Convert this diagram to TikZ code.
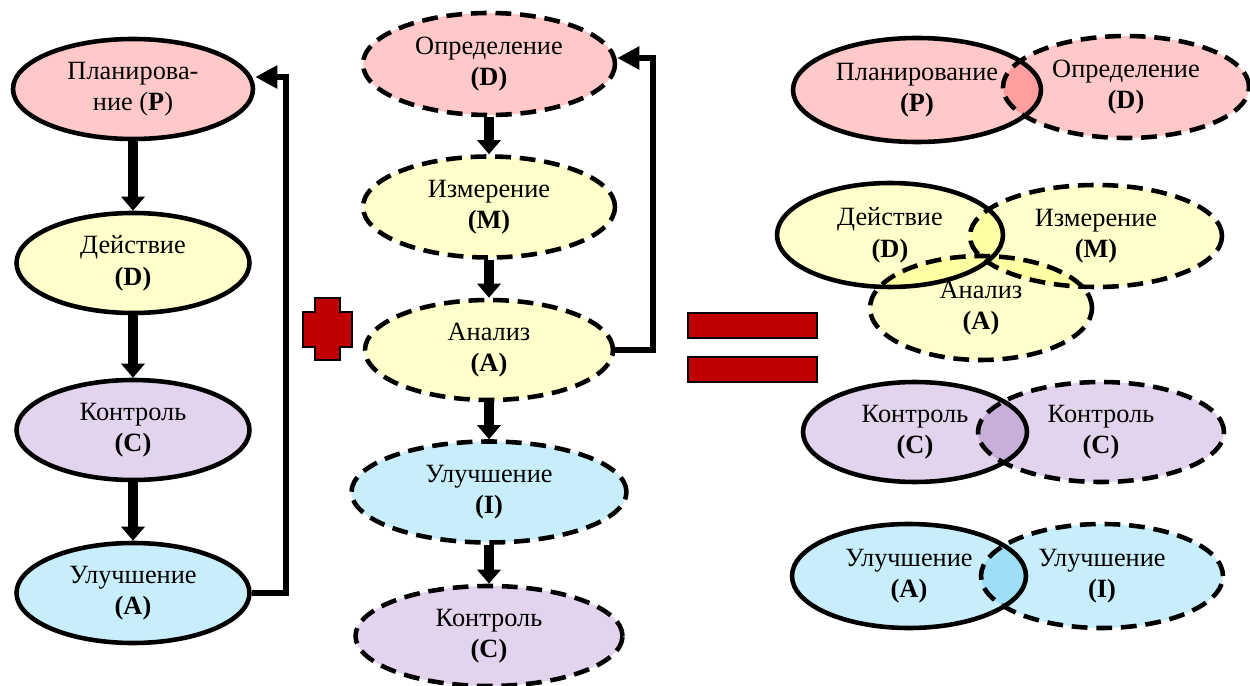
\documentclass[tikz,border=0pt]{standalone}
\usepackage{fontspec}
\setmainfont{Liberation Serif}
\usetikzlibrary{shapes.geometric, arrows.meta, positioning}
\definecolor{pinkF}{HTML}{FFC9C9}
\definecolor{yellowF}{HTML}{FFFFCC}
\definecolor{lilacF}{HTML}{E1D4EC}
\definecolor{blueF}{HTML}{C9EEFB}
\definecolor{signred}{HTML}{C00000}
\tikzset{
  ell/.style={ellipse, inner sep=0pt, line width=2.6pt, align=center,
    font=\fontsize{15}{18}\selectfont, minimum height=2cm},
  solidell/.style={ell, draw},
  dashell/.style={ell, draw, dash pattern=on 9pt off 5pt},
  flow/.style={line width=0.2cm, -{Triangle[width=0.46cm,length=0.28cm]}},
  loopline/.style={line width=0.13cm, -{Triangle[width=0.44cm,length=0.44cm]}},
  sign/.style={fill=signred, draw=black, line width=0.7pt}
}

\begin{document}
\begin{tikzpicture}
            \useasboundingbox (0,0) rectangle (25,-13.72);
            % PDCA
            \node[solidell, fill=pinkF, minimum width=4.8cm] (plan) at (2.66,-1.78) {Планирова-\\ние (\textbf{P})};
            \node[solidell, fill=yellowF, minimum width=4.66cm] (deyst) at (2.66,-5.26) {Действие\\\textbf{(D)}};
            \node[solidell, fill=lilacF, minimum width=4.66cm] (kontr) at (2.66,-8.6) {Контроль\\\textbf{(C)}};
            \node[solidell, fill=blueF, minimum width=4.66cm] (ulA) at (2.66,-11.86) {Улучшение\\\textbf{(A)}};
            \draw[flow] (plan.south) -- (deyst.north);
            \draw[flow] (deyst.south) -- (kontr.north);
            \draw[flow] (kontr.south) -- (ulA.north);
            \coordinate (loopA) at (5.72,-1.54);
            \draw[loopline] (ulA.east) -| (loopA) -- (loopA -| plan.east);

            % DMAIC
            \node[dashell, fill=pinkF, minimum width=5.04cm, minimum height=2.04cm] (opred) at (9.78,-1.28) {Определение\\\textbf{(D)}};
            \node[dashell, fill=yellowF, minimum width=5.04cm, minimum height=2.02cm] (izm) at (9.78,-4.14) {Измерение\\\textbf{(M)}};
            \node[dashell, fill=yellowF, minimum width=4.96cm] (anal) at (9.78,-7.0) {Анализ\\\textbf{(A)}};
            \node[dashell, fill=blueF, minimum width=5.5cm, minimum height=2.02cm] (ulI) at (9.78,-9.84) {Улучшение\\\textbf{(I)}};
            \node[dashell, fill=lilacF, minimum width=5.34cm] (kontrB) at (9.78,-12.72) {Контроль\\\textbf{(C)}};
            \draw[flow] (opred.south) -- (izm.north);
            \draw[flow] (izm.south) -- (anal.north);
            \draw[flow] (anal.south) -- (ulI.north);
            \draw[flow] (ulI.south) -- (kontrB.north);
            \coordinate (loopB) at (13.06,-1.16);
            \draw[loopline] (anal.east) -| (loopB) -- (loopB -| opred.east);

            % plus et egal
            \draw[sign] (6.3,-5.96) -- (6.8,-5.96) -- (6.8,-6.24) -- (7.04,-6.24) -- (7.04,-6.94) -- (6.8,-6.94)
              -- (6.8,-7.2) -- (6.3,-7.2) -- (6.3,-6.94) -- (6.06,-6.94) -- (6.06,-6.24) -- (6.3,-6.24) -- cycle;
            \draw[sign] (13.76,-6.26) rectangle (16.34,-6.76);
            \draw[sign] (13.76,-7.14) rectangle (16.34,-7.64);

            % resultat
            \node[solidell, fill=pinkF, minimum width=4.96cm, minimum height=2.08cm] (planR) at (18.34,-1.8) {Планирование\\\textbf{(P)}};
            \node[solidell, fill=yellowF, minimum width=4.52cm, minimum height=2.08cm] (deystR) at (17.8,-4.7) {Действие\\\textbf{(D)}};
            \node[solidell, fill=lilacF, minimum width=4.48cm] (kontrR) at (18.3,-8.64) {Контроль\\\textbf{(C)}};
            \node[solidell, fill=blueF, minimum width=4.68cm, minimum height=2.08cm] (ulR) at (18.18,-11.52) {Улучшение\\\textbf{(A)}};
            \begin{scope}[blend mode=multiply]
              \node[dashell, fill=pinkF, minimum width=4.92cm, minimum height=2.04cm] (opredR) at (22.52,-1.74) {Определение\\\textbf{(D)}};
              \node[dashell, fill=yellowF, minimum width=5.04cm, minimum height=2.04cm] (izmR) at (21.92,-4.72) {Измерение\\\textbf{(M)}};
              \node[dashell, fill=yellowF, minimum width=4.44cm, minimum height=2.08cm] (analR) at (19.62,-6.16) {Анализ\\\textbf{(A)}};
              \node[dashell, fill=lilacF, minimum width=4.92cm] (kontrRb) at (22.02,-8.64) {Контроль\\\textbf{(C)}};
              \node[dashell, fill=blueF, minimum width=4.84cm, minimum height=2.08cm] (ulRb) at (22.04,-11.52) {Улучшение\\\textbf{(I)}};
            \end{scope}
        \end{tikzpicture}
\end{document}
